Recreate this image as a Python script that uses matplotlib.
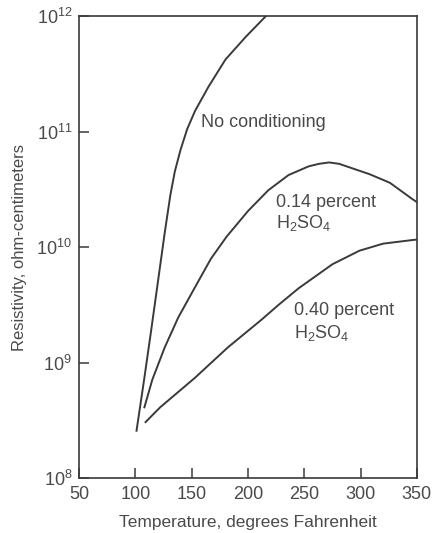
import numpy as np
import matplotlib
matplotlib.use("Agg")
import matplotlib.pyplot as plt

plt.rcParams["font.family"] = ["Liberation Sans", "DejaVu Sans"]
plt.rcParams["mathtext.fontset"] = "custom"
plt.rcParams["mathtext.rm"] = "Liberation Sans"
plt.rcParams["mathtext.it"] = "Liberation Sans"
plt.rcParams["mathtext.default"] = "regular"

INK = "#3a3a3a"
TXT = "#4a4a4a"

# ---------------------------------------------------------------- data
# No conditioning
t_none = [101, 108, 114, 120, 126, 131, 135, 140, 146, 153, 165, 180, 198, 216]
r_none = [2.57e8, 7.4e8, 1.9e9, 5.0e9, 1.32e10, 2.8e10, 4.5e10, 6.9e10,
          1.05e11, 1.51e11, 2.45e11, 4.2e11, 6.6e11, 1.0e12]

# 0.14 percent H2SO4
t_014 = [108, 115, 126, 138, 153, 167, 181, 200, 218, 236, 254, 263, 272,
         281, 290, 308, 326, 346, 350]
r_014 = [4.1e8, 7.1e8, 1.35e9, 2.45e9, 4.5e9, 7.9e9, 1.23e10, 2.05e10, 3.1e10,
         4.2e10, 5.0e10, 5.25e10, 5.4e10, 5.25e10, 4.9e10, 4.27e10, 3.6e10,
         2.6e10, 2.45e10]

# 0.40 percent H2SO4
t_040 = [109, 122, 153, 182, 212, 227, 245, 275, 299, 320, 346, 350]
r_040 = [3.05e8, 4.1e8, 7.4e8, 1.35e9, 2.35e9, 3.15e9, 4.4e9, 7.1e9,
         9.3e9, 1.07e10, 1.15e10, 1.16e10]

x_ticks = [50, 100, 150, 200, 250, 300, 350]
y_ticks = [1e8, 1e9, 1e10, 1e11, 1e12]
y_ticklabels = [r"$10^8$", r"$10^9$", r"$10^{10}$", r"$10^{11}$", r"$10^{12}$"]

# ---------------------------------------------------------------- figure
fig = plt.figure(figsize=(4.37, 5.33), dpi=100)
ax = fig.add_axes([0.181, 0.103, 0.773, 0.867])

for t, r in [(t_none, r_none), (t_014, r_014), (t_040, r_040)]:
    ax.plot(t, r, color=INK, lw=1.4, solid_joinstyle="round")

ax.set_yscale("log")
ax.set_xlim(50, 350)
ax.set_ylim(1e8, 1e12)
ax.set_xticks(x_ticks)
ax.set_yticks(y_ticks)
ax.set_yticklabels(y_ticklabels)
ax.yaxis.set_minor_locator(matplotlib.ticker.NullLocator())

ax.tick_params(axis="both", direction="in", length=7, width=1.1, color=INK,
               labelsize=13, labelcolor=TXT)
ax.tick_params(axis="x", pad=6)
ax.tick_params(axis="y", pad=5)
for sp in ax.spines.values():
    sp.set_color(INK)
    sp.set_linewidth(1.2)

ax.set_xlabel("Temperature, degrees Fahrenheit", fontsize=12.5, color=TXT, labelpad=8)
ax.set_ylabel("Resistivity, ohm-centimeters", fontsize=12, color=TXT, labelpad=7)

ax.text(158, 1.2e11, "No conditioning", fontsize=13, color=TXT, ha="left", va="center")
ax.text(225, 2.45e10, "0.14 percent", fontsize=13, color=TXT, ha="left", va="center")
ax.text(225, 1.6e10, r"H$_2$SO$_4$", fontsize=13, color=TXT, ha="left", va="center")
ax.text(241, 2.85e9, "0.40 percent", fontsize=13, color=TXT, ha="left", va="center")
ax.text(241, 1.8e9, r"H$_2$SO$_4$", fontsize=13, color=TXT, ha="left", va="center")

fig.savefig("out.png", dpi=100)
